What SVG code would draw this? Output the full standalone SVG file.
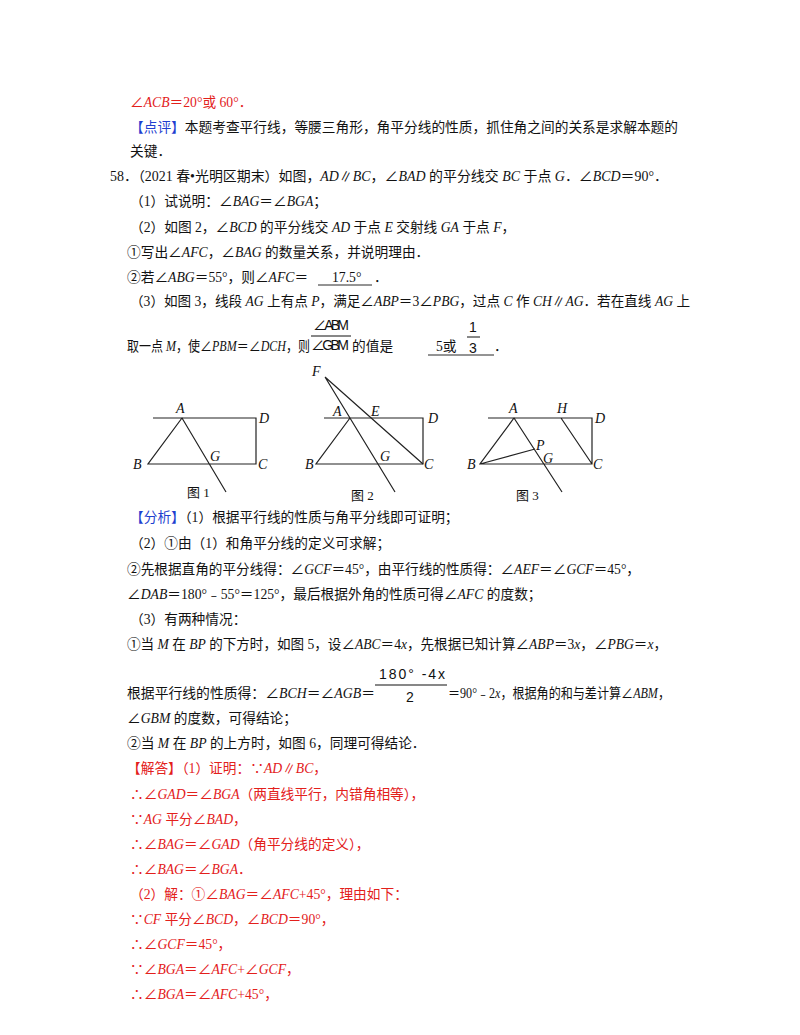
<svg xmlns="http://www.w3.org/2000/svg" width="800" height="1035" viewBox="0 0 800 1035">
<style>
text{font-family:"Liberation Serif","Noto Sans CJK SC",serif;font-size:13.7px;fill:#111}
.r{fill:#e3201b}.r tspan{fill:#e3201b}
.b{fill:#1f3fd0}
.i{font-style:italic}
.lab{font-family:"Liberation Serif",serif;font-style:italic;font-size:14px}
.cap{font-size:13px}
.ln{stroke:#222;stroke-width:1.2;fill:none}
.fr{font-family:"Liberation Sans","Noto Sans CJK SC",sans-serif;font-size:14px}
</style>
<rect width="800" height="1035" fill="#fff"/>
<g id="text-top">
<text x="130" y="107" class="r">∠<tspan class="i">ACB</tspan>＝20°或 60°．</text>
<text x="130" y="132" textLength="548" lengthAdjust="spacingAndGlyphs"><tspan class="b">【点评】</tspan>本题考查平行线，等腰三角形，角平分线的性质，抓住角之间的关系是求解本题的</text>
<text x="130" y="156">关键．</text>
<text x="110" y="181" textLength="558" lengthAdjust="spacingAndGlyphs">58．（2021 春•光明区期末）如图，<tspan class="i">AD</tspan>∥<tspan class="i">BC</tspan>，∠<tspan class="i">BAD</tspan> 的平分线交 <tspan class="i">BC</tspan> 于点 <tspan class="i">G</tspan>．∠<tspan class="i">BCD</tspan>＝90°．</text>
<text x="130" y="206">（1）试说明：∠<tspan class="i">BAG</tspan>＝∠<tspan class="i">BGA</tspan>；</text>
<text x="130" y="232">（2）如图 2，∠<tspan class="i">BCD</tspan> 的平分线交 <tspan class="i">AD</tspan> 于点 <tspan class="i">E</tspan> 交射线 <tspan class="i">GA</tspan> 于点 <tspan class="i">F</tspan>，</text>
<text x="127" y="257">①写出∠<tspan class="i">AFC</tspan>，∠<tspan class="i">BAG</tspan> 的数量关系，并说明理由．</text>
<text x="127" y="282">②若∠<tspan class="i">ABG</tspan>＝55°，则∠<tspan class="i">AFC</tspan>＝</text>
<text x="332" y="282">17.5°</text>
<text x="374" y="282">．</text>
<line x1="318" y1="285" x2="372" y2="285" stroke="#111" stroke-width="0.9"/>
<text x="130" y="306" textLength="560" lengthAdjust="spacingAndGlyphs">（3）如图 3，线段 <tspan class="i">AG</tspan> 上有点 <tspan class="i">P</tspan>，满足∠<tspan class="i">ABP</tspan>＝3∠<tspan class="i">PBG</tspan>，过点 <tspan class="i">C</tspan> 作 <tspan class="i">CH</tspan>∥<tspan class="i">AG</tspan>．若在直线 <tspan class="i">AG</tspan> 上</text>
<text x="127" y="351" textLength="183" lengthAdjust="spacingAndGlyphs">取一点 <tspan class="i">M</tspan>，使∠<tspan class="i">PBM</tspan>＝∠<tspan class="i">DCH</tspan>，则</text>
<text x="313" y="330" class="fr" textLength="36">∠ABM</text>
<line x1="311" y1="336" x2="351" y2="336" stroke="#111" stroke-width="1"/>
<text x="311" y="350" class="fr" textLength="38">∠GBM</text>
<text x="352" y="351">的值是</text>
<text x="436" y="351">5或</text>
<text x="469" y="332" class="fr">1</text>
<line x1="467" y1="337" x2="480" y2="337" stroke="#111" stroke-width="1"/>
<text x="469" y="353" class="fr">3</text>
<line x1="428" y1="355" x2="494" y2="355" stroke="#111" stroke-width="0.9"/>
<text x="494" y="351">．</text>
</g>
<g id="fig1">
<path class="ln" d="M153 418H256V464H148L182 418L226 492"/>
<text class="lab" x="176" y="413">A</text><text class="lab" x="259" y="423">D</text>
<text class="lab" x="133" y="469">B</text><text class="lab" x="210" y="461">G</text>
<text class="lab" x="258" y="469">C</text>
<text class="cap" x="187" y="497">图 1</text>
</g>
<g id="fig2">
<path class="ln" d="M324 418H423V464H316L350 418"/>
<path class="ln" d="M325 377L395 492M325 377L423 464"/>
<text class="lab" x="312" y="376">F</text><text class="lab" x="333" y="416">A</text>
<text class="lab" x="371" y="416">E</text><text class="lab" x="428" y="423">D</text>
<text class="lab" x="305" y="469">B</text><text class="lab" x="380" y="461">G</text>
<text class="lab" x="424" y="469">C</text>
<text class="cap" x="351" y="500">图 2</text>
</g>
<g id="fig3">
<path class="ln" d="M488 418H592V464H480L514 418L562 492M561 418L592 464M480 464L535 449"/>
<text class="lab" x="509" y="413">A</text><text class="lab" x="557" y="413">H</text>
<text class="lab" x="595" y="423">D</text><text class="lab" x="536" y="450">P</text>
<text class="lab" x="543" y="463">G</text><text class="lab" x="467" y="469">B</text>
<text class="lab" x="593" y="469">C</text>
<text class="cap" x="516" y="500">图 3</text>
</g>
<g id="text-bottom">
<text x="130" y="522"><tspan class="b">【分析】</tspan>（1）根据平行线的性质与角平分线即可证明；</text>
<text x="130" y="548">（2）①由（1）和角平分线的定义可求解；</text>
<text x="127" y="574" textLength="513" lengthAdjust="spacingAndGlyphs">②先根据直角的平分线得：∠<tspan class="i">GCF</tspan>＝45°，由平行线的性质得：∠<tspan class="i">AEF</tspan>＝∠<tspan class="i">GCF</tspan>＝45°，</text>
<text x="127" y="599">∠<tspan class="i">DAB</tspan>＝180°﹣55°＝125°，最后根据外角的性质可得∠<tspan class="i">AFC</tspan> 的度数；</text>
<text x="130" y="624">（3）有两种情况：</text>
<text x="127" y="649" textLength="540" lengthAdjust="spacingAndGlyphs">①当 <tspan class="i">M</tspan> 在 <tspan class="i">BP</tspan> 的下方时，如图 5，设∠<tspan class="i">ABC</tspan>＝4<tspan class="i">x</tspan>，先根据已知计算∠<tspan class="i">ABP</tspan>＝3<tspan class="i">x</tspan>，∠<tspan class="i">PBG</tspan>＝<tspan class="i">x</tspan>，</text>
<text x="379" y="679" class="fr" textLength="66">180°  -4x</text>
<line x1="375" y1="685" x2="447" y2="685" stroke="#111" stroke-width="1.2"/>
<text x="406" y="702" class="fr">2</text>
<text x="127" y="698" textLength="248" lengthAdjust="spacingAndGlyphs">根据平行线的性质得：∠<tspan class="i">BCH</tspan>＝∠<tspan class="i">AGB</tspan>＝</text>
<text x="448" y="698" textLength="222" lengthAdjust="spacingAndGlyphs">＝90°﹣2<tspan class="i">x</tspan>，根据角的和与差计算∠<tspan class="i">ABM</tspan>，</text>
<text x="127" y="723">∠<tspan class="i">GBM</tspan> 的度数，可得结论；</text>
<text x="127" y="748">②当 <tspan class="i">M</tspan> 在 <tspan class="i">BP</tspan> 的上方时，如图 6，同理可得结论．</text>
<text x="127" y="773" class="r">【解答】（1）证明：∵<tspan class="i">AD</tspan>∥<tspan class="i">BC</tspan>，</text>
<text x="130" y="799" class="r">∴∠<tspan class="i">GAD</tspan>＝∠<tspan class="i">BGA</tspan>（两直线平行，内错角相等），</text>
<text x="130" y="824" class="r">∵<tspan class="i">AG</tspan> 平分∠<tspan class="i">BAD</tspan>，</text>
<text x="130" y="849" class="r">∴∠<tspan class="i">BAG</tspan>＝∠<tspan class="i">GAD</tspan>（角平分线的定义），</text>
<text x="130" y="874" class="r">∴∠<tspan class="i">BAG</tspan>＝∠<tspan class="i">BGA</tspan>．</text>
<text x="130" y="899" class="r">（2）解：①∠<tspan class="i">BAG</tspan>＝∠<tspan class="i">AFC</tspan>+45°，理由如下：</text>
<text x="130" y="924" class="r">∵<tspan class="i">CF</tspan> 平分∠<tspan class="i">BCD</tspan>，∠<tspan class="i">BCD</tspan>＝90°，</text>
<text x="130" y="949" class="r">∴∠<tspan class="i">GCF</tspan>＝45°，</text>
<text x="130" y="974" class="r">∵∠<tspan class="i">BGA</tspan>＝∠<tspan class="i">AFC</tspan>+∠<tspan class="i">GCF</tspan>，</text>
<text x="130" y="999" class="r">∴∠<tspan class="i">BGA</tspan>＝∠<tspan class="i">AFC</tspan>+45°，</text>
</g>
</svg>
